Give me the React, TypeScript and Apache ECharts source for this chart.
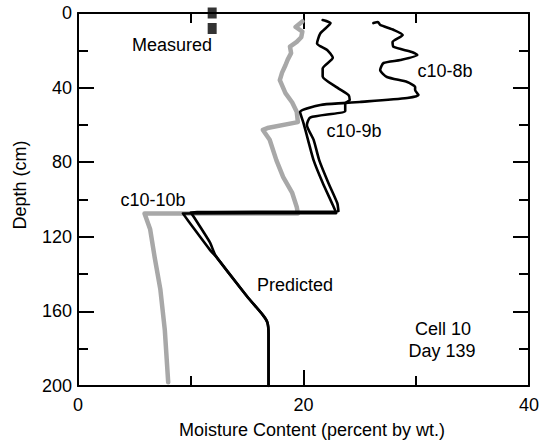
import React, { useEffect, useRef } from "react";
import * as echarts from "echarts";

// Moisture content (percent by wt.) against depth (cm), Cell 10, day 139
const c108b: [number, number][] = [
  [26.2, 5.4], [26.6, 4.8], [26.8, 6.4], [28.0, 9.1], [28.8, 11.8], [27.9, 15.5],
  [28.0, 18.2], [29.6, 20.9], [30.1, 22.5], [28.6, 25.2], [27.1, 26.8], [26.8, 30.6],
  [27.4, 34.3], [29.2, 37.0], [29.9, 39.7], [29.9, 41.3], [30.2, 44.0], [29.2, 45.6],
  [25.0, 47.7], [23.5, 48.3], [21.5, 49.3], [19.7, 53.1], [20.0, 59.0], [20.4, 68.0],
  [20.9, 79.0], [21.7, 91.0], [22.6, 103.0], [22.9, 107.3], [9.3, 107.5],
  [11.7, 127.0], [12.3, 131.0], [15.0, 152.0], [16.4, 162.0], [16.8, 166.0], [16.9, 172.0],
  [16.9, 200.0],
];

const c109b: [number, number][] = [
  [21.7, 3.8], [22.4, 5.4], [21.5, 10.9], [21.2, 16.3], [22.1, 19.8], [22.6, 24.0],
  [21.7, 29.7], [21.7, 34.0], [23.0, 40.0], [24.0, 44.0], [24.1, 46.7], [23.7, 48.5],
  [23.7, 52.5], [20.6, 56.0], [20.3, 60.0], [20.9, 68.0], [21.4, 79.0], [22.2, 91.0],
  [23.0, 102.0], [23.1, 106.5], [10.0, 106.8], [11.7, 123.0], [12.2, 130.0],
  [15.0, 152.0], [16.4, 162.0], [16.8, 166.0], [16.9, 172.0], [16.9, 200.0],
];

const c1010b: [number, number][] = [
  [19.9, 4.5], [19.3, 7.5], [19.9, 10.0], [19.8, 13.0], [19.4, 15.5], [18.8, 18.0],
  [18.9, 21.5], [18.6, 25.0], [18.4, 28.0], [18.1, 32.0], [17.9, 36.0], [18.4, 43.0],
  [19.0, 48.0], [19.4, 53.0], [19.5, 58.5], [16.8, 61.7], [16.4, 62.7], [17.0, 68.0],
  [17.6, 79.0], [18.2, 88.0], [19.0, 96.5], [19.4, 104.0], [19.5, 107.5], [5.9, 107.5],
  [6.4, 116.0], [6.8, 131.0], [7.3, 148.0], [7.7, 170.0], [8.0, 198.0],
];

const measuredPoints: [number, number][] = [
  [11.9, 0.0],
  [11.9, 8.3],
];

const xRange = { min: 0, max: 40, interval: 20 };
const yRange = { min: 0, max: 200, interval: 40 };

const FONT = "Liberation Sans, Arial, Helvetica, sans-serif";

function axisCommon(showLabels: boolean, margin: number) {
  return {
    axisLine: { show: true, onZero: false, lineStyle: { color: "#000", width: 2 } },
    axisTick: { show: true, inside: true, length: 16, lineStyle: { color: "#000", width: 2 } },
    minorTick: { show: true, splitNumber: 2, length: 10, lineStyle: { color: "#000", width: 2 } },
    splitLine: { show: false },
    minorSplitLine: { show: false },
    axisLabel: {
      show: showLabels,
      margin,
      color: "#000",
      fontFamily: FONT,
      fontSize: 18,
    },
  };
}

function textEl(text: string, x: number, y: number, extra: Record<string, unknown> = {}) {
  return {
    type: "text",
    x,
    y,
    ...extra,
    style: {
      text,
      fill: "#000",
      font: `18px ${FONT}`,
      textAlign: "center",
      textVerticalAlign: "middle",
    },
  };
}

export default function App() {
  const ref = useRef<HTMLDivElement>(null);

  useEffect(() => {
    document.body.style.margin = "0";
    if (!ref.current) return;
    const chart = echarts.init(ref.current, undefined, { renderer: "svg" });

    const blackLine = { color: "#000", width: 2.6, join: "round", cap: "round" };

    chart.setOption({
      animation: false,
      backgroundColor: "#fff",
      grid: { left: 78, right: 13, top: 13, bottom: 57, containLabel: false },
      xAxis: [
        { type: "value", position: "bottom", ...xRange, ...axisCommon(true, 10) },
        { type: "value", position: "top", ...xRange, ...axisCommon(false, 10) },
      ],
      yAxis: [
        { type: "value", position: "left", inverse: true, ...yRange, ...axisCommon(true, 6) },
        { type: "value", position: "right", inverse: true, ...yRange, ...axisCommon(false, 6) },
      ],
      series: [
        {
          name: "c10-10b",
          type: "line",
          data: c1010b,
          showSymbol: false,
          smooth: false,
          lineStyle: { color: "#a8a8a8", width: 4.5, join: "round", cap: "round" },
          z: 2,
        },
        {
          name: "c10-9b",
          type: "line",
          data: c109b,
          showSymbol: false,
          smooth: 0.2,
          lineStyle: blackLine,
          z: 3,
        },
        {
          name: "c10-8b",
          type: "line",
          data: c108b,
          showSymbol: false,
          smooth: 0.2,
          lineStyle: blackLine,
          z: 3,
        },
        {
          name: "Measured",
          type: "scatter",
          data: measuredPoints,
          symbol: "rect",
          symbolSize: [9, 11],
          itemStyle: { color: "#000" },
          clip: false,
          z: 5,
        },
      ],
      graphic: [
        textEl("Measured", 172, 45),
        textEl("c10-8b", 445, 71),
        textEl("c10-9b", 354, 131),
        textEl("c10-10b", 153, 200),
        textEl("Predicted", 295, 285),
        textEl("Cell 10", 443, 329),
        textEl("Day 139", 442, 351),
        textEl("Moisture Content (percent by wt.)", 312, 430),
        textEl("Depth (cm)", 20, 185, { rotation: Math.PI / 2 }),
      ],
    });

    return () => chart.dispose();
  }, []);

  return <div ref={ref} style={{ width: 542, height: 443 }} />;
}
